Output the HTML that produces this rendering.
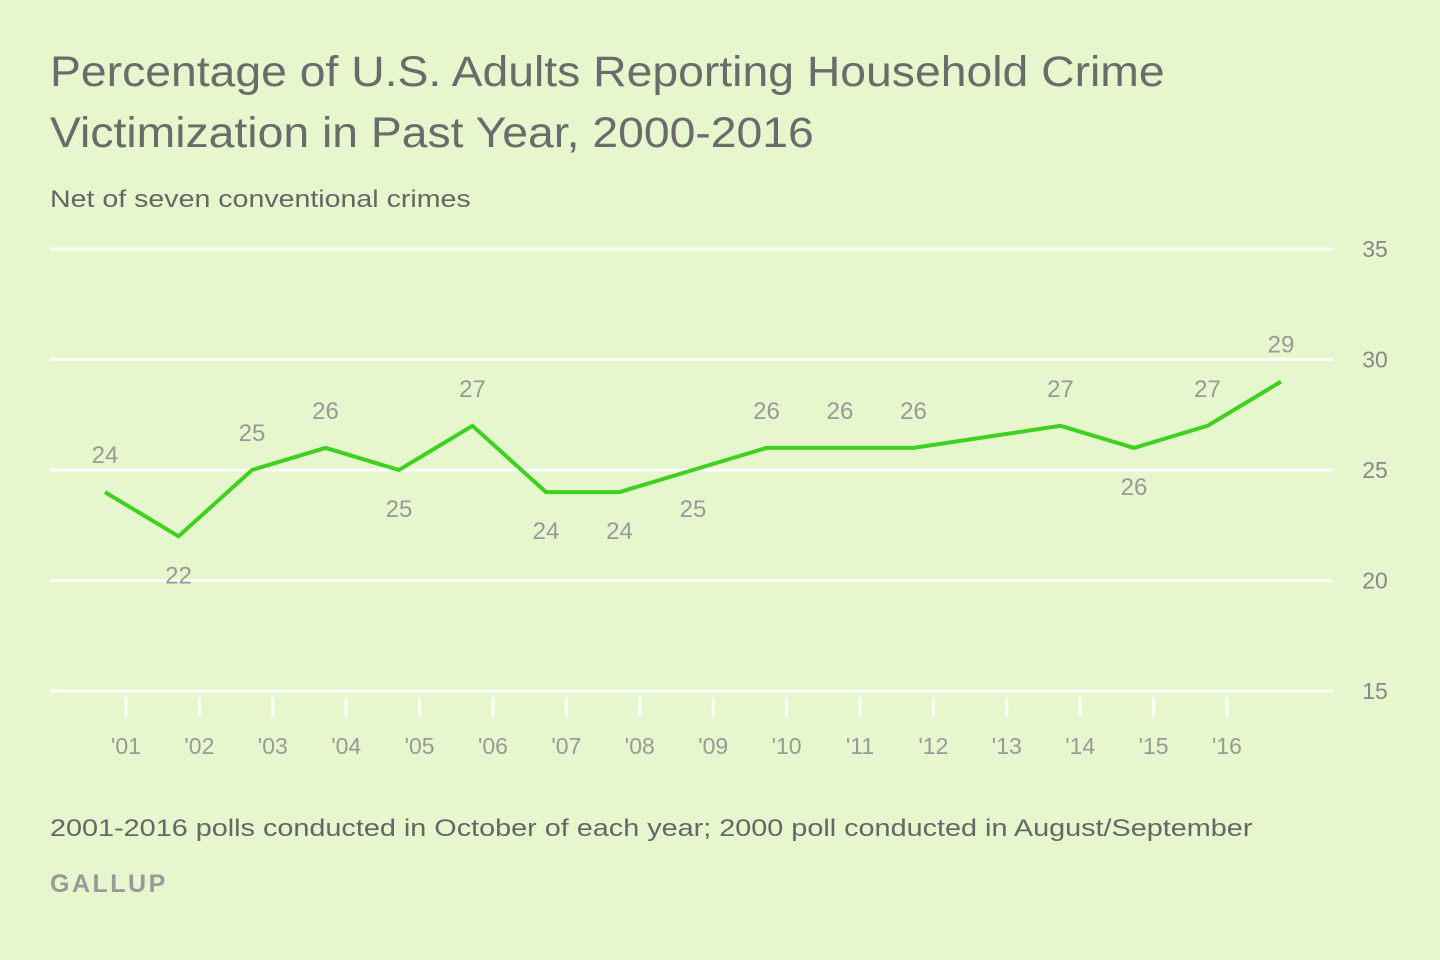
<!DOCTYPE html>
<html><head><meta charset="utf-8"><style>
body{margin:0;background:#e6f6cd;width:1440px;height:960px;overflow:hidden;font-family:"Liberation Sans",sans-serif;}
.t{position:absolute;left:50px;color:#666;transform-origin:0 0;white-space:nowrap;}
</style></head><body>
<div class="t" style="top:42px;font-size:43px;line-height:61px;color:#6b6b6b;transform:scaleX(1.077)">Percentage of U.S. Adults Reporting Household Crime<br>Victimization in Past Year, 2000-2016</div>
<div class="t" style="top:186px;font-size:24px;color:#666;transform:scaleX(1.19)">Net of seven conventional crimes</div>
<div class="t" style="top:815px;font-size:24px;color:#666;transform:scaleX(1.2)">2001-2016 polls conducted in October of each year; 2000 poll conducted in August/September</div>
<div class="t" style="top:870px;font-size:25px;letter-spacing:2.5px;color:#999;font-weight:bold">GALLUP</div>
<svg id="c" width="1440" height="960" style="position:absolute;left:0;top:0"></svg>
<script>
const years=[2000,2001,2002,2003,2004,2005,2006,2007,2008,2009,2010,2011,2012,2013,2014,2015,2016];
const values=[24,22,25,26,25,27,24,24,25,26,26,26,null,27,26,27,29];
const labelBelow=[false,true,false,false,true,false,true,true,true,false,false,false,false,false,true,false,false];
const yTicks=[15,20,25,30,35];
const xTickLabels=["'01","'02","'03","'04","'05","'06","'07","'08","'09","'10","'11","'12","'13","'14","'15","'16"];
const NS="http://www.w3.org/2000/svg",svg=document.getElementById('c');
const x=i=>105+73.5*i;
const y=v=>691-(v-15)*22.1;
function mk(t,a,p){const e=document.createElementNS(NS,t);for(const k in a)e.setAttribute(k,a[k]);(p||svg).appendChild(e);return e;}
yTicks.forEach(v=>{
 const l=mk('line',{x1:50,x2:1333,y1:y(v),y2:y(v),stroke:'#fff','stroke-width':3});
 
 
 const t=mk('text',{x:1375,y:y(v)+8,'text-anchor':'middle','font-size':23,fill:'#888'});t.textContent=v;
 
 
});
xTickLabels.forEach((s,i)=>{
 const tx=126+73.4*i;
 const l=mk('line',{x1:tx,x2:tx,y1:697,y2:717,stroke:'#fff','stroke-width':3});
 
 
 const t=mk('text',{x:tx,y:754,'text-anchor':'middle','font-size':23,fill:'#999'});t.textContent=s;
 
 
});
let d='';values.forEach((v,i)=>{if(v==null)return;d+=(d?'L':'M')+x(i)+','+y(v);});
const p=mk('path',{d:d,fill:'none',stroke:'#3fd11f','stroke-width':4,'stroke-linejoin':'miter'});


values.forEach((v,i)=>{if(v==null)return;
 const t=mk('text',{x:x(i),y:labelBelow[i]?y(v)+47:y(v)-29,'text-anchor':'middle','font-size':24,fill:'#999'});t.textContent=v;
 
 
});
</script>
</body></html>
